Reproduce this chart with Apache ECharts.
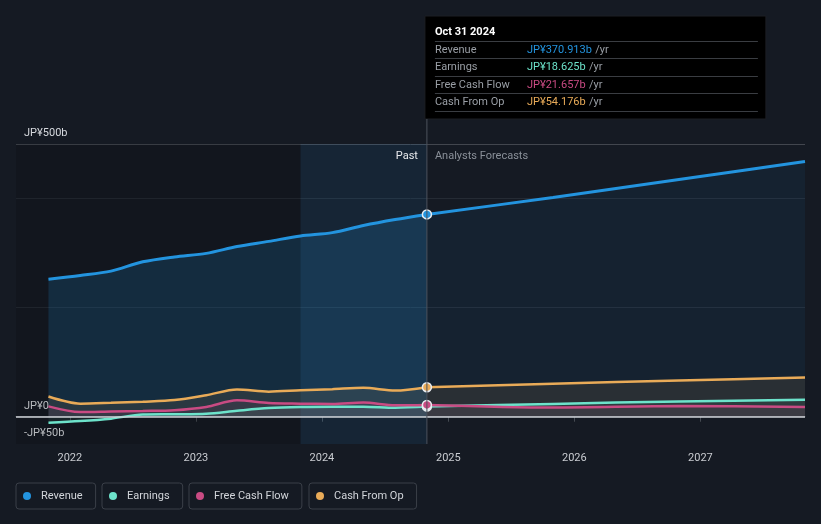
<!DOCTYPE html>
<html><head><meta charset="utf-8">
<script src="https://cdn.jsdelivr.net/npm/echarts@6/dist/echarts.min.js"></script>
<style>html,body{margin:0;padding:0;background:#151a23;} #c{width:821px;height:524px;}</style>
</head><body><div id="c"></div>
<script>
// ---- data ----
const seriesNames = ['Revenue', 'Earnings', 'Free Cash Flow', 'Cash From Op'];
const seriesColors = ['#2394df', '#6de3cb', '#c94b83', '#e9ab58'];
const pastDates = ['2021-10-31','2022-01-31','2022-04-30','2022-07-31','2022-10-31','2023-01-31','2023-04-30','2023-07-31','2023-10-31','2024-01-31','2024-04-30','2024-07-31','2024-10-31'];
const forecastDates = ['2024-10-31','2025-10-31','2026-10-31','2027-10-31'];
const revenuePast = [252, 259, 267, 284, 293, 299.5, 312, 321.5, 331.5, 337.5, 350.5, 361.5, 370.913];
const revenueForecast = [370.913, 402, 435, 468];
const earningsPast = [-11, -8, -3.5, 4, 4.5, 5.5, 11, 16, 18, 18.5, 18.5, 16.5, 18.625];
const earningsForecast = [18.625, 23.5, 28, 31];
const fcfPast = [19, 8.5, 9.5, 10.5, 12, 18, 30, 25, 24, 23.5, 26, 21, 21.657];
const fcfForecast = [21.657, 17, 19.5, 18];
const cfoPast = [37, 24, 25.5, 27.5, 30.5, 39.5, 50, 46, 48.5, 50.5, 53, 48, 54.176];
const cfoForecast = [54.176, 60.5, 66.5, 72];
const xMin = '2021-07-29';
const xMax = '2027-10-31';
const lastYearStart = '2023-10-31';
const dividerDate = '2024-10-31';
const tooltipTitle = 'Oct 31 2024';
const yMin = -50, yMax = 500, yStep = 50;
const yTickLabels = {'500': 'JP¥500b', '0': 'JP¥0', '-50': '-JP¥50b'};
const yGridShown = [200, 400];
const yTopGrid = 500;

const FONT = 'Roboto';
const chart = echarts.init(document.getElementById('c'));

function hexA(hex, a) {
  const n = parseInt(hex.slice(1), 16);
  return `rgba(${(n>>16)&255},${(n>>8)&255},${n&255},${a})`;
}

function mkSeries(idx, dates, vals, past, areaA, width, extra) {
  const color = seriesColors[idx];
  const data = dates.map((d, i) => {
    if (past && i === dates.length - 1) {
      return {value: [d, vals[i]], symbol: 'circle', symbolSize: 9,
        itemStyle: {color: color, borderColor: '#e8ecf0', borderWidth: 1.5}};
    }
    return [d, vals[i]];
  });
  return Object.assign({
    type: 'line', name: seriesNames[idx], data: data,
    symbol: 'none', smooth: 0.3, silent: true,
    lineStyle: {color: color, width: width},
    itemStyle: {color: color},
    areaStyle: {color: hexA(color, areaA), origin: 0},
    z: past ? 3 : 2
  }, extra || {});
}

// split-line colors per tick index from yMin
const splitColors = [];
for (let v = yMin; v <= yMax; v += yStep) {
  if (v === yTopGrid) splitColors.push('#42464e');
  else if (yGridShown.indexOf(v) >= 0) splitColors.push('#252b34');
  else splitColors.push('rgba(0,0,0,0)');
}

const legends = seriesNames.map((n, i) => ({
  data: [n], left: [16, 102, 189, 309][i], top: 483,
  icon: 'circle', itemWidth: 18, itemHeight: 8, selectedMode: false,
  padding: [6, 13, 6, 7], borderColor: '#3a3f48', borderWidth: 1, borderRadius: 3,
  textStyle: {color: '#d2d5da', fontSize: 11, fontFamily: FONT, lineHeight: 14}
}));

const option = {
  backgroundColor: '#151a23',
  animation: false,
  textStyle: {fontFamily: FONT},
  legend: legends,
  grid: {left: 16, right: 16, top: 144, bottom: 80},
  xAxis: {
    type: 'time', min: xMin, max: xMax,
    axisLine: {lineStyle: {color: '#454a52', width: 1}},
    axisTick: {show: true, length: 5, lineStyle: {color: '#454a52'}},
    axisLabel: {color: '#c9ccd1', fontSize: 11, margin: 9, fontWeight: 'normal',
      formatter: (v) => { const d = new Date(v); return d.getMonth() === 0 ? String(d.getFullYear()) : ''; }},
    splitLine: {show: false}
  },
  yAxis: {
    type: 'value', min: yMin, max: yMax, interval: yStep,
    axisLine: {show: false}, axisTick: {show: false},
    axisLabel: {inside: true, margin: 8, color: '#d6d9de', fontSize: 11, verticalAlign: 'bottom',
      padding: [0, 0, 5, 0],
      formatter: (v) => yTickLabels[String(v)] || ''},
    splitLine: {show: true, lineStyle: {color: splitColors, width: 1}}
  },
  series: [
    mkSeries(0, pastDates, revenuePast, true, 0.25, 3, {
      markArea: {silent: true, data: [
        [{xAxis: xMin, itemStyle: {color: 'rgba(0,0,0,0.14)'}}, {xAxis: lastYearStart}],
        [{xAxis: lastYearStart, itemStyle: {color: 'rgba(33,150,243,0.09)'}}, {xAxis: dividerDate}]
      ]},
      markLine: {silent: true, symbol: 'none', label: {show: false},
        lineStyle: {color: '#cfd3d8', width: 1.5, type: 'solid'},
        data: [{yAxis: 0}]}
    }),
    mkSeries(0, forecastDates, revenueForecast, false, 0.1, 3),
    mkSeries(3, pastDates, cfoPast, true, 0.14, 2.5),
    mkSeries(3, forecastDates, cfoForecast, false, 0.14, 2.5),
    mkSeries(1, pastDates, earningsPast, true, 0.1, 2.5),
    mkSeries(1, forecastDates, earningsForecast, false, 0.1, 2.5),
    mkSeries(2, pastDates, fcfPast, true, 0.12, 2.5),
    mkSeries(2, forecastDates, fcfForecast, false, 0.12, 2.5)
  ]
};
chart.setOption(option);

// ---- static tooltip & divider ----
const px = chart.convertToPixel({xAxisIndex: 0}, dividerDate);
const yBottom = chart.convertToPixel({yAxisIndex: 0}, yMin);
const yTop = chart.convertToPixel({yAxisIndex: 0}, yMax);
const lastVals = [revenuePast, earningsPast, fcfPast, cfoPast].map(a => a[a.length - 1]);
const boxX = px - 2, boxY = 16, boxW = 341, boxH = 103;
const tipChildren = [
  {type: 'rect', shape: {x: 0, y: 0, width: boxW, height: boxH}, style: {fill: '#000000', stroke: '#1c1f24', lineWidth: 1}},
  {type: 'text', x: 10, y: 16, style: {text: tooltipTitle, fill: '#ffffff', font: 'bold 11px ' + FONT, verticalAlign: 'middle'}}
];
const sepY = [25.5, 42.5, 60.5, 77.5, 95.5];
sepY.forEach(y => tipChildren.push({type: 'line', shape: {x1: 10, y1: y, x2: 333, y2: y}, style: {stroke: '#3a3d42', lineWidth: 1}}));
const rowY = [34.5, 51.5, 69, 86.5];
seriesNames.forEach((n, i) => {
  tipChildren.push({type: 'text', x: 10, y: rowY[i], style: {text: n, fill: '#9a9fa6', font: '11px ' + FONT, verticalAlign: 'middle'}});
  tipChildren.push({type: 'text', x: 102, y: rowY[i], style: {
    text: '{v|JP¥' + lastVals[i].toFixed(3) + 'b} {u|/yr}', verticalAlign: 'middle',
    rich: {v: {fill: seriesColors[i], font: '11px ' + FONT}, u: {fill: '#9a9fa6', font: '11px ' + FONT}}
  }});
});

chart.setOption({graphic: [
  {type: 'line', silent: true, z: 50, shape: {x1: px, y1: boxY + boxH, x2: px, y2: yBottom}, style: {stroke: '#4d535c', lineWidth: 1}},
  {type: 'text', silent: true, z: 50, x: px - 9, y: yTop + 12, style: {text: 'Past', fill: '#e8eaed', font: '11px ' + FONT, align: 'right', verticalAlign: 'middle'}},
  {type: 'text', silent: true, z: 50, x: px + 8, y: yTop + 12, style: {text: 'Analysts Forecasts', fill: '#8a9099', font: '11px ' + FONT, align: 'left', verticalAlign: 'middle'}},
  {type: 'group', silent: true, z: 60, x: boxX, y: boxY, children: tipChildren}
]});
</script>
</body></html>
